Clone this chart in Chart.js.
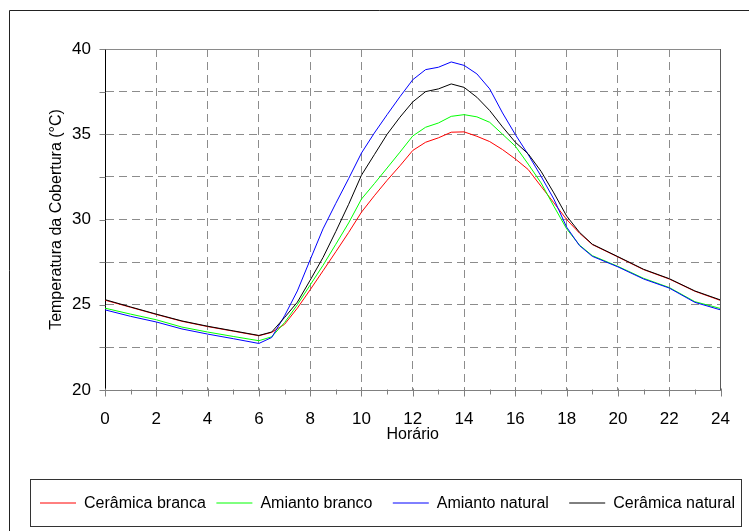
<!DOCTYPE html>
<html>
<head>
<meta charset="utf-8">
<script src="https://cdn.jsdelivr.net/npm/chart.js@4/dist/chart.umd.min.js"></script>
<style>
  html, body { margin: 0; padding: 0; background: #ffffff; }
  #wrap { width: 749px; height: 531px; }
</style>
</head>
<body>
<div id="wrap"><canvas id="c" width="749" height="531"></canvas></div>
<script>
// Hour of day (h)
const hours = [0, 1, 2, 3, 4, 5, 6, 6.5, 7, 7.5, 8, 8.5, 9, 9.5, 10, 10.5, 11, 11.5, 12,
  12.5, 13, 13.5, 14, 14.5, 15, 15.5, 16, 16.5, 17, 17.5, 18, 18.5, 19, 20, 21, 22, 23, 24];

// Roof surface temperature (°C) for each covering
const ceramicaBranca = [25.27, 24.85, 24.43, 24.03, 23.72, 23.45, 23.18, 23.38, 23.85, 24.8, 25.88,
  26.99, 28.11, 29.24, 30.43, 31.39, 32.3, 33.15, 34.05, 34.53, 34.79, 35.12, 35.14, 34.88, 34.57,
  34.1, 33.55, 32.93, 31.95, 30.98, 30.0, 29.2, 28.53, 27.8, 27.06, 26.51, 25.79, 25.25];
const amiantoBranco = [24.8, 24.45, 24.12, 23.69, 23.4, 23.14, 22.89, 23.12, 23.95, 25.0, 26.16,
  27.31, 28.55, 29.8, 31.2, 32.1, 33.02, 33.95, 34.9, 35.41, 35.66, 36.05, 36.15, 36.02, 35.7,
  35.0, 34.3, 33.25, 32.15, 30.78, 29.45, 28.5, 27.88, 27.25, 26.55, 26.01, 25.18, 24.78];
const amiantoNatural = [24.7, 24.32, 23.99, 23.58, 23.28, 23.01, 22.73, 23.08, 24.35, 25.81, 27.64,
  29.45, 30.95, 32.4, 33.9, 35.07, 36.15, 37.2, 38.2, 38.79, 38.93, 39.24, 39.04, 38.54, 37.66,
  36.25, 34.98, 33.81, 32.54, 31.2, 29.55, 28.47, 27.84, 27.22, 26.51, 25.98, 25.14, 24.7];
const ceramicaNatural = [25.3, 24.87, 24.45, 24.05, 23.74, 23.47, 23.2, 23.4, 24.25, 25.15, 26.44,
  27.77, 29.3, 30.89, 32.6, 33.8, 35.0, 36.0, 36.9, 37.5, 37.66, 37.95, 37.75, 37.17, 36.39,
  35.43, 34.53, 33.85, 32.83, 31.56, 30.2, 29.25, 28.55, 27.82, 27.08, 26.53, 25.81, 25.28];

const seriesLabels = ['Cerâmica branca', 'Amianto branco', 'Amianto natural', 'Cerâmica natural'];
const seriesValues = [ceramicaBranca, amiantoBranco, amiantoNatural, ceramicaNatural];
const seriesColors = ['#ff0000', '#00ff00', '#0000ff', '#000000'];
const seriesOrder = [3, 2, 1, 0]; // black and blue drawn over red and green

const xAxisTitle = 'Horário';
const yAxisTitle = 'Temperatura da Cobertura (°C)';

const FONT = "'Liberation Sans', Arial, Helvetica, sans-serif";

const datasets = seriesValues.map((vals, i) => ({
  label: seriesLabels[i],
  data: hours.map((h, k) => ({ x: h, y: vals[k] })),
  borderColor: seriesColors[i],
  backgroundColor: seriesColors[i],
  borderWidth: 1,
  pointRadius: 0,
  tension: 0,
  fill: false,
  order: seriesOrder[i]
}));

// Outer frame, plot border, tick marks and boxed legend
const decorations = {
  id: 'decorations',
  afterDraw(chart) {
    const ctx = chart.ctx;
    const a = chart.chartArea;
    const xs = chart.scales.x, ys = chart.scales.y;
    ctx.save();
    ctx.setLineDash([]);
    ctx.lineWidth = 1;

    // outer frame (top and left edges)
    ctx.strokeStyle = '#222222';
    ctx.beginPath();
    ctx.moveTo(9.5, 531); ctx.lineTo(9.5, 10.5); ctx.lineTo(749, 10.5);
    ctx.stroke();

    // top and right plot border
    ctx.strokeStyle = '#8a8a8a';
    ctx.beginPath();
    ctx.moveTo(Math.round(a.left) + 0.5, Math.round(a.top) + 0.5);
    ctx.lineTo(Math.round(a.right) - 0.5, Math.round(a.top) + 0.5);
    ctx.stroke();
    ctx.strokeStyle = '#5a5a5a';
    ctx.beginPath();
    ctx.moveTo(Math.round(a.right) - 0.5, Math.round(a.top));
    ctx.lineTo(Math.round(a.right) - 0.5, Math.round(a.bottom));
    ctx.stroke();

    // x tick marks: every hour, longer on even hours
    ctx.strokeStyle = '#808080';
    const yb = Math.round(a.bottom) + 0.5;
    for (let h = xs.min; h <= xs.max; h += 1) {
      const px = Math.round(xs.getPixelForValue(h)) + 0.5;
      const major = h % 2 === 0;
      ctx.beginPath();
      ctx.moveTo(px, yb - (major ? 2 : 1));
      ctx.lineTo(px, yb + (major ? 6 : 4));
      ctx.stroke();
    }
    // y tick marks: every 2.5 °C, outside the axis
    const xl = Math.round(a.left) + 0.5;
    for (let v = ys.min; v <= ys.max; v += 2.5) {
      const py = Math.round(ys.getPixelForValue(v)) + 0.5;
      ctx.beginPath();
      ctx.moveTo(xl - 6, py);
      ctx.lineTo(xl, py);
      ctx.stroke();
    }

    // boxed legend
    ctx.strokeStyle = '#333333';
    ctx.strokeRect(30.5, 479.5, 711, 47);
    ctx.font = '16px ' + FONT;
    ctx.textBaseline = 'middle';
    ctx.textAlign = 'left';
    const ly = 503;
    seriesLabels.forEach((label, i) => {
      const x0 = 40 + i * 176.4;
      ctx.strokeStyle = seriesColors[i];
      ctx.beginPath();
      ctx.moveTo(x0, ly); ctx.lineTo(x0 + 36, ly);
      ctx.stroke();
      ctx.fillStyle = '#000000';
      ctx.fillText(label, x0 + 44, ly + 0.5);
    });
    ctx.restore();
  }
};

new Chart(document.getElementById('c'), {
  type: 'line',
  data: { datasets },
  options: {
    responsive: false,
    animation: false,
    events: [],
    layout: { padding: { left: 47, top: 49, right: 26, bottom: 87 } },
    plugins: {
      legend: { display: false },
      tooltip: { enabled: false }
    },
    scales: {
      x: {
        type: 'linear',
        min: 0,
        max: 24,
        afterFit: s => { s.height = 54; },
        ticks: {
          stepSize: 2,
          padding: 19,
          color: '#000000',
          font: { family: FONT, size: 17 },
          maxRotation: 0
        },
        grid: {
          drawTicks: false,
          color: '#8c8c8c',
          lineWidth: 1
        },
        border: { display: true, color: '#808080', width: 1, dash: [8, 5] },
        title: {
          display: true,
          text: xAxisTitle,
          color: '#000000',
          padding: 0,
          font: { family: FONT, size: 16 }
        }
      },
      y: {
        type: 'linear',
        min: 20,
        max: 40,
        afterFit: s => { s.width = 58; },
        ticks: {
          stepSize: 2.5,
          padding: 14,
          color: '#000000',
          font: { family: FONT, size: 17 },
          callback: v => (v % 5 === 0 ? String(v) : '')
        },
        grid: {
          drawTicks: false,
          color: '#8c8c8c',
          lineWidth: 1
        },
        border: { display: true, color: '#000000', width: 1, dash: [8, 5] },
        title: {
          display: true,
          text: yAxisTitle,
          color: '#000000',
          padding: 0,
          font: { family: FONT, size: 16 }
        }
      }
    }
  },
  plugins: [decorations]
});
</script>
</body>
</html>
